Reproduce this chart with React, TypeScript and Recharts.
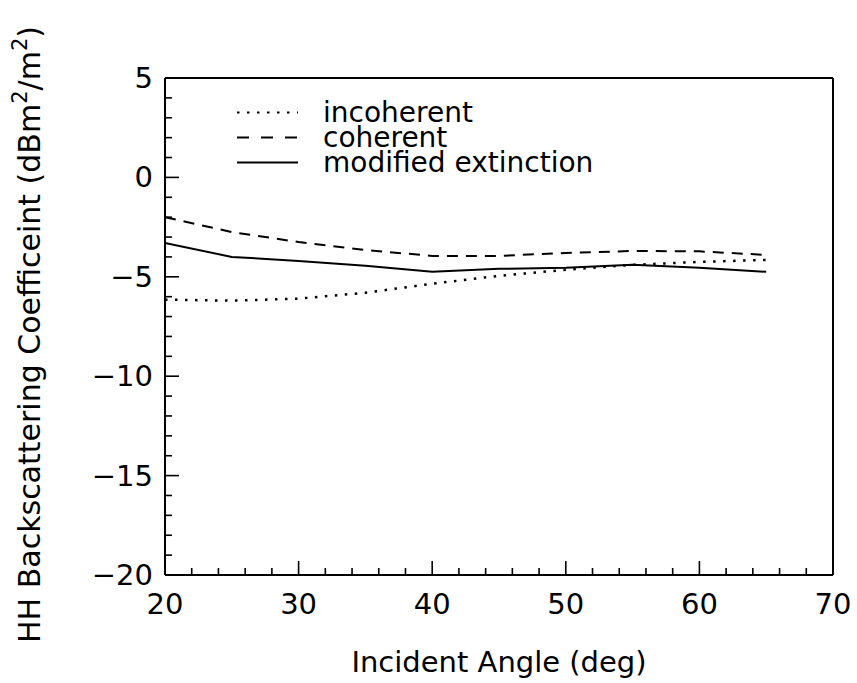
import { Legend, Line, LineChart, XAxis, YAxis } from "recharts";

// incident angle (deg)
const angles = [20, 25, 30, 35, 40, 45, 50, 55, 60, 65];
// HH backscattering coefficient (dB m^2/m^2)
const incoherent = [-6.15, -6.2, -6.1, -5.8, -5.35, -4.95, -4.65, -4.4, -4.25, -4.15];
const coherent = [-2.0, -2.75, -3.25, -3.65, -3.95, -3.95, -3.8, -3.7, -3.72, -3.9];
const modifiedExtinction = [-3.3, -4.0, -4.2, -4.45, -4.75, -4.6, -4.55, -4.4, -4.55, -4.75];

const xTicks = [20, 22, 24, 26, 28, 30, 32, 34, 36, 38, 40, 42, 44, 46, 48, 50, 52, 54, 56, 58, 60, 62, 64, 66, 68, 70];
const yTicks = [-20, -19, -18, -17, -16, -15, -14, -13, -12, -11, -10, -9, -8, -7, -6, -5, -4, -3, -2, -1, 0, 1, 2, 3, 4, 5];

const legendOrder = ["incoherent", "coherent", "modified"];

const data = angles.map((a, i) => ({
    angle: a,
    incoherent: incoherent[i],
    coherent: coherent[i],
    modified: modifiedExtinction[i],
}));

const FONT = "'DejaVu Sans', sans-serif";
const dashes: Record<string, string | undefined> = {
    incoherent: "2.5 7.5",
    coherent: "11 8",
    modified: undefined,
};
const swatchDashes: Record<string, string | undefined> = {
    incoherent: "2.5 7.5",
    coherent: "12 12",
    modified: undefined,
};

const fmt = (v: number) => (v < 0 ? `\u2212${Math.abs(v)}` : `${v}`);

function BottomTick(props: any) {
    const { x, y, payload } = props;
    const major = payload.value % 10 === 0;
    return (
        <g>
            <line x1={x} x2={x} y1={y} y2={y - (major ? 14 : 7)} stroke="#000" strokeWidth={1.6} />
            {major && (
                <text x={x} y={y + 39} textAnchor="middle" fontFamily={FONT} fontSize={29} fill="#000">
                    {payload.value}
                </text>
            )}
        </g>
    );
}

function TopTick(props: any) {
    const { x, y, payload } = props;
    const major = payload.value % 10 === 0;
    return <line x1={x} x2={x} y1={y} y2={y + (major ? 14 : 7)} stroke="#000" strokeWidth={1.6} />;
}

function LeftTick(props: any) {
    const { x, y, payload } = props;
    const major = payload.value % 5 === 0;
    return (
        <g>
            <line x1={x} x2={x + (major ? 14 : 7)} y1={y} y2={y} stroke="#000" strokeWidth={1.6} />
            {major && (
                <text x={x - 12} y={y + 10} textAnchor="end" fontFamily={FONT} fontSize={29} fill="#000">
                    {fmt(payload.value)}
                </text>
            )}
        </g>
    );
}

function RightTick(props: any) {
    const { x, y, payload } = props;
    const major = payload.value % 5 === 0;
    return <line x1={x} x2={x - (major ? 14 : 7)} y1={y} y2={y} stroke="#000" strokeWidth={1.6} />;
}

function XTitle(props: any) {
    const { viewBox } = props;
    const cx = viewBox.x + viewBox.width / 2;
    return (
        <text x={cx} y={viewBox.y + 97} textAnchor="middle" fontFamily={FONT} fontSize={29} fill="#000">
            Incident Angle (deg)
        </text>
    );
}

function YTitle(props: any) {
    const { viewBox } = props;
    const cy = viewBox.y + viewBox.height / 2 + 8;
    const tx = 40;
    return (
        <text
            x={tx}
            y={cy}
            transform={`rotate(-90, ${tx}, ${cy})`}
            textAnchor="middle"
            fontFamily={FONT}
            fontSize={30}
            fill="#000"
        >
            HH Backscattering Coefficeint (dBm
            <tspan dy={-13} fontSize={21}>2</tspan>
            <tspan dy={13}>/m</tspan>
            <tspan dy={-13} fontSize={21}>2</tspan>
            <tspan dy={13}>)</tspan>
        </text>
    );
}

function LegendBox(props: any) {
    const items = [...(props.payload || [])].sort(
        (a: any, b: any) => legendOrder.indexOf(a.dataKey) - legendOrder.indexOf(b.dataKey)
    );
    return (
        <div style={{ fontFamily: FONT, fontSize: 28, color: "#000" }}>
            {items.map((p: any) => (
                <div key={p.dataKey} style={{ display: "flex", alignItems: "center", height: 25 }}>
                    <svg width={61} height={25} style={{ marginRight: 25 }}>
                        <line
                            x1={0}
                            x2={61}
                            y1={12.5}
                            y2={12.5}
                            stroke="#000"
                            strokeWidth={2}
                            strokeDasharray={swatchDashes[p.dataKey]}
                        />
                    </svg>
                    <span style={{ lineHeight: "25px", whiteSpace: "nowrap" }}>{p.value}</span>
                </div>
            ))}
        </div>
    );
}

export default function App() {
    return (
        <div style={{ position: "absolute", left: 0, top: 0, width: 857, height: 683, background: "#fff" }}>
            <LineChart width={857} height={683} data={data} margin={{ top: 77, right: 23, bottom: 78, left: 105 }}>
                <XAxis
                    xAxisId="b"
                    dataKey="angle"
                    type="number"
                    domain={[20, 70]}
                    ticks={xTicks}
                    interval={0}
                    height={30}
                    tickSize={0}
                    tickMargin={0}
                    tickLine={false}
                    axisLine={{ stroke: "#000", strokeWidth: 2 }}
                    tick={<BottomTick />}
                    label={<XTitle />}
                />
                <XAxis
                    xAxisId="t"
                    orientation="top"
                    type="number"
                    domain={[20, 70]}
                    ticks={xTicks}
                    interval={0}
                    height={1}
                    tickSize={0}
                    tickMargin={0}
                    tickLine={false}
                    axisLine={{ stroke: "#000", strokeWidth: 2 }}
                    tick={<TopTick />}
                />
                <YAxis
                    yAxisId="l"
                    type="number"
                    domain={[-20, 5]}
                    ticks={yTicks}
                    interval={0}
                    width={60}
                    tickSize={0}
                    tickMargin={0}
                    tickLine={false}
                    axisLine={{ stroke: "#000", strokeWidth: 2 }}
                    tick={<LeftTick />}
                    label={<YTitle />}
                />
                <YAxis
                    yAxisId="r"
                    orientation="right"
                    type="number"
                    domain={[-20, 5]}
                    ticks={yTicks}
                    interval={0}
                    width={1}
                    tickSize={0}
                    tickMargin={0}
                    tickLine={false}
                    axisLine={{ stroke: "#000", strokeWidth: 2 }}
                    tick={<RightTick />}
                />
                <Legend
                    layout="vertical"
                    align="center"
                    verticalAlign="middle"
                    wrapperStyle={{ left: 237, top: 100, width: 420 }}
                    content={<LegendBox />}
                />
                <Line
                    xAxisId="b"
                    yAxisId="l"
                    dataKey="incoherent"
                    name="incoherent"
                    stroke="#000"
                    strokeWidth={2.5}
                    strokeDasharray={dashes.incoherent}
                    dot={false}
                    isAnimationActive={false}
                />
                <Line
                    xAxisId="b"
                    yAxisId="l"
                    dataKey="coherent"
                    name="coherent"
                    stroke="#000"
                    strokeWidth={2}
                    strokeDasharray={dashes.coherent}
                    dot={false}
                    isAnimationActive={false}
                />
                <Line
                    xAxisId="b"
                    yAxisId="l"
                    dataKey="modified"
                    name="modified extinction"
                    stroke="#000"
                    strokeWidth={2}
                    dot={false}
                    isAnimationActive={false}
                />
            </LineChart>
        </div>
    );
}
